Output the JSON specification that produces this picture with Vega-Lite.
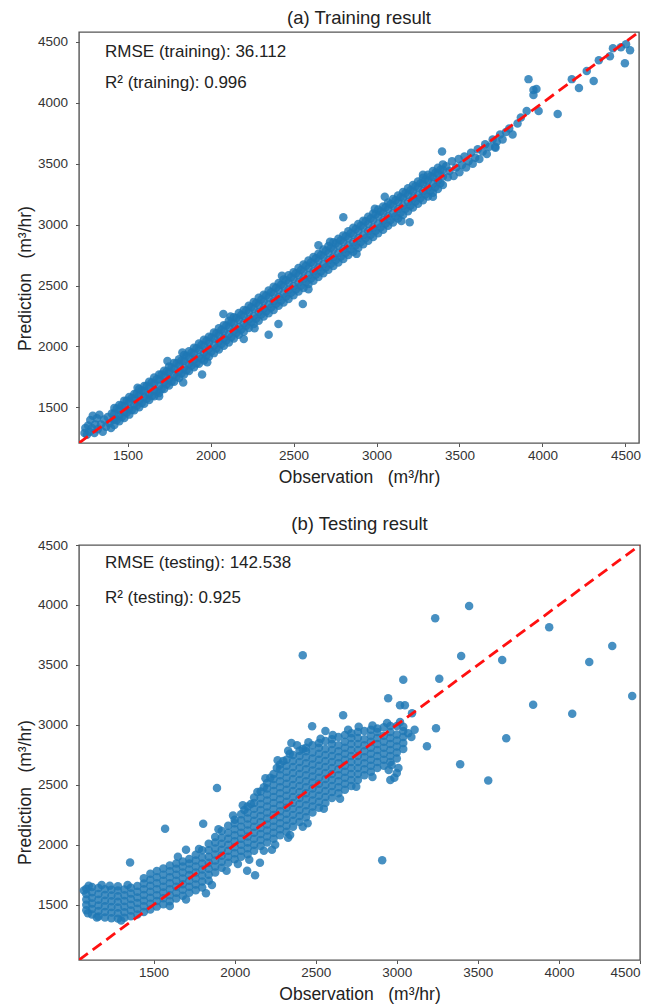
{
 "$schema": "https://vega.github.io/schema/vega-lite/v6.json",
 "padding": {"left": 15, "top": 7, "right": 5, "bottom": 0},
 "spacing": 26,
 "config": {
  "font": "Liberation Sans",
  "view": {"stroke": "#555", "strokeWidth": 1.4},
  "axis": {"grid": false, "domain": false, "tickColor": "#555", "tickSize": 3.5, "labelFontSize": 13.5, "labelColor": "#333", "titleFontSize": 17.5, "titleFontWeight": "normal", "titleColor": "#222", "format": "d"},
  "axisX": {"labelPadding": 2, "titlePadding": 6},
  "axisY": {"labelPadding": 8, "titlePadding": 3},
  "title": {"fontSize": 18.5, "fontWeight": "normal", "color": "#222", "offset": 5}
 },
 "datasets": {
  "train": [
   {"obs":1240,"pred":1290},{"obs":1245,"pred":1330},{"obs":1255,"pred":1275},{"obs":1262,"pred":1350},{"obs":1270,"pred":1300},{"obs":1275,"pred":1395},{"obs":1285,"pred":1330},{"obs":1290,"pred":1430},{"obs":1300,"pred":1290},{"obs":1305,"pred":1360},{"obs":1315,"pred":1410},{"obs":1320,"pred":1320},{"obs":1330,"pred":1440},{"obs":1340,"pred":1360},{"obs":1350,"pred":1300},{"obs":1358,"pred":1400},{"obs":1370,"pred":1340},{"obs":1380,"pred":1420},{"obs":1390,"pred":1370},{"obs":1400,"pred":1330},{"obs":1405,"pred":1450},{"obs":1415,"pred":1400},
   {"obs":1420,"pred":1495},{"obs":1420,"pred":1450},{"obs":1420,"pred":1400},{"obs":1420,"pred":1355},
   {"obs":1450,"pred":1520},{"obs":1450,"pred":1478},{"obs":1450,"pred":1432},{"obs":1450,"pred":1385},
   {"obs":1480,"pred":1555},{"obs":1480,"pred":1510},{"obs":1480,"pred":1462},{"obs":1480,"pred":1412},
   {"obs":1510,"pred":1585},{"obs":1510,"pred":1545},{"obs":1510,"pred":1490},{"obs":1510,"pred":1440},
   {"obs":1540,"pred":1610},{"obs":1540,"pred":1570},{"obs":1540,"pred":1525},{"obs":1540,"pred":1475},
   {"obs":1570,"pred":1650},{"obs":1570,"pred":1600},{"obs":1570,"pred":1552},{"obs":1570,"pred":1500},
   {"obs":1600,"pred":1675},{"obs":1600,"pred":1632},{"obs":1600,"pred":1585},{"obs":1600,"pred":1530},
   {"obs":1630,"pred":1710},{"obs":1630,"pred":1662},{"obs":1630,"pred":1612},{"obs":1630,"pred":1560},
   {"obs":1660,"pred":1745},{"obs":1660,"pred":1695},{"obs":1660,"pred":1640},{"obs":1660,"pred":1590},
   {"obs":1690,"pred":1770},{"obs":1690,"pred":1728},{"obs":1690,"pred":1675},{"obs":1690,"pred":1618},
   {"obs":1720,"pred":1800},{"obs":1720,"pred":1755},{"obs":1720,"pred":1705},{"obs":1720,"pred":1650},
   {"obs":1750,"pred":1835},{"obs":1750,"pred":1790},{"obs":1750,"pred":1735},{"obs":1750,"pred":1680},
   {"obs":1780,"pred":1865},{"obs":1780,"pred":1815},{"obs":1780,"pred":1768},{"obs":1780,"pred":1710},
   {"obs":1810,"pred":1895},{"obs":1810,"pred":1850},{"obs":1810,"pred":1795},{"obs":1810,"pred":1740},
   {"obs":1840,"pred":1930},{"obs":1840,"pred":1880},{"obs":1840,"pred":1825},{"obs":1840,"pred":1770},
   {"obs":1870,"pred":1960},{"obs":1870,"pred":1910},{"obs":1870,"pred":1858},{"obs":1870,"pred":1798},
   {"obs":1900,"pred":1990},{"obs":1900,"pred":1940},{"obs":1900,"pred":1888},{"obs":1900,"pred":1830},
   {"obs":1930,"pred":2025},{"obs":1930,"pred":1972},{"obs":1930,"pred":1915},{"obs":1930,"pred":1858},
   {"obs":1960,"pred":2055},{"obs":1960,"pred":2005},{"obs":1960,"pred":1948},{"obs":1960,"pred":1885},
   {"obs":1990,"pred":2080},{"obs":1990,"pred":2032},{"obs":1990,"pred":1980},{"obs":1990,"pred":1918},
   {"obs":2020,"pred":2115},{"obs":2020,"pred":2065},{"obs":2020,"pred":2008},{"obs":2020,"pred":1945},
   {"obs":2050,"pred":2150},{"obs":2050,"pred":2095},{"obs":2050,"pred":2040},{"obs":2050,"pred":1975},
   {"obs":2080,"pred":2175},{"obs":2080,"pred":2125},{"obs":2080,"pred":2068},{"obs":2080,"pred":2005},
   {"obs":2110,"pred":2210},{"obs":2110,"pred":2158},{"obs":2110,"pred":2100},{"obs":2110,"pred":2032},
   {"obs":2140,"pred":2240},{"obs":2140,"pred":2188},{"obs":2140,"pred":2128},{"obs":2140,"pred":2065},
   {"obs":2170,"pred":2275},{"obs":2170,"pred":2220},{"obs":2170,"pred":2160},{"obs":2170,"pred":2095},
   {"obs":2200,"pred":2300},{"obs":2200,"pred":2250},{"obs":2200,"pred":2190},{"obs":2200,"pred":2120},
   {"obs":2230,"pred":2335},{"obs":2230,"pred":2280},{"obs":2230,"pred":2222},{"obs":2230,"pred":2152},
   {"obs":2260,"pred":2365},{"obs":2260,"pred":2312},{"obs":2260,"pred":2250},{"obs":2260,"pred":2185},
   {"obs":2290,"pred":2400},{"obs":2290,"pred":2342},{"obs":2290,"pred":2282},{"obs":2290,"pred":2210},
   {"obs":2320,"pred":2425},{"obs":2320,"pred":2372},{"obs":2320,"pred":2312},{"obs":2320,"pred":2245},
   {"obs":2350,"pred":2460},{"obs":2350,"pred":2402},{"obs":2350,"pred":2345},{"obs":2350,"pred":2272},
   {"obs":2380,"pred":2490},{"obs":2380,"pred":2435},{"obs":2380,"pred":2372},{"obs":2380,"pred":2300},
   {"obs":2410,"pred":2520},{"obs":2410,"pred":2465},{"obs":2410,"pred":2405},{"obs":2410,"pred":2335},
   {"obs":2440,"pred":2550},{"obs":2440,"pred":2495},{"obs":2440,"pred":2432},{"obs":2440,"pred":2360},
   {"obs":2470,"pred":2585},{"obs":2470,"pred":2525},{"obs":2470,"pred":2465},{"obs":2470,"pred":2390},
   {"obs":2500,"pred":2610},{"obs":2500,"pred":2555},{"obs":2500,"pred":2495},{"obs":2500,"pred":2420},
   {"obs":2530,"pred":2645},{"obs":2530,"pred":2585},{"obs":2530,"pred":2525},{"obs":2530,"pred":2452},
   {"obs":2560,"pred":2672},{"obs":2560,"pred":2618},{"obs":2560,"pred":2555},{"obs":2560,"pred":2480},
   {"obs":2590,"pred":2705},{"obs":2590,"pred":2645},{"obs":2590,"pred":2585},{"obs":2590,"pred":2512},
   {"obs":2620,"pred":2735},{"obs":2620,"pred":2678},{"obs":2620,"pred":2615},{"obs":2620,"pred":2540},
   {"obs":2650,"pred":2762},{"obs":2650,"pred":2705},{"obs":2650,"pred":2648},{"obs":2650,"pred":2570},
   {"obs":2680,"pred":2795},{"obs":2680,"pred":2738},{"obs":2680,"pred":2675},{"obs":2680,"pred":2600},
   {"obs":2710,"pred":2825},{"obs":2710,"pred":2768},{"obs":2710,"pred":2708},{"obs":2710,"pred":2630},
   {"obs":2740,"pred":2855},{"obs":2740,"pred":2798},{"obs":2740,"pred":2735},{"obs":2740,"pred":2660},
   {"obs":2770,"pred":2885},{"obs":2770,"pred":2828},{"obs":2770,"pred":2768},{"obs":2770,"pred":2690},
   {"obs":2800,"pred":2912},{"obs":2800,"pred":2858},{"obs":2800,"pred":2795},{"obs":2800,"pred":2718},
   {"obs":2830,"pred":2945},{"obs":2830,"pred":2888},{"obs":2830,"pred":2828},{"obs":2830,"pred":2750},
   {"obs":2860,"pred":2975},{"obs":2860,"pred":2918},{"obs":2860,"pred":2855},{"obs":2860,"pred":2778},
   {"obs":2890,"pred":3005},{"obs":2890,"pred":2948},{"obs":2890,"pred":2888},{"obs":2890,"pred":2808},
   {"obs":2920,"pred":3032},{"obs":2920,"pred":2978},{"obs":2920,"pred":2915},{"obs":2920,"pred":2840},
   {"obs":2950,"pred":3065},{"obs":2950,"pred":3008},{"obs":2950,"pred":2948},{"obs":2950,"pred":2868},
   {"obs":2980,"pred":3092},{"obs":2980,"pred":3038},{"obs":2980,"pred":2975},{"obs":2980,"pred":2898},
   {"obs":3010,"pred":3125},{"obs":3010,"pred":3068},{"obs":3010,"pred":3008},{"obs":3010,"pred":2930},
   {"obs":3040,"pred":3150},{"obs":3040,"pred":3098},{"obs":3040,"pred":3035},{"obs":3040,"pred":2958},
   {"obs":3070,"pred":3182},{"obs":3070,"pred":3128},{"obs":3070,"pred":3068},{"obs":3070,"pred":2990},
   {"obs":3100,"pred":3210},{"obs":3100,"pred":3158},{"obs":3100,"pred":3095},{"obs":3100,"pred":3018},
   {"obs":3130,"pred":3240},{"obs":3130,"pred":3188},{"obs":3130,"pred":3128},{"obs":3130,"pred":3050},
   {"obs":3160,"pred":3268},{"obs":3160,"pred":3218},{"obs":3160,"pred":3155},{"obs":3160,"pred":3080},
   {"obs":3190,"pred":3298},{"obs":3190,"pred":3245},{"obs":3190,"pred":3188},{"obs":3190,"pred":3110},
   {"obs":3220,"pred":3325},{"obs":3220,"pred":3275},{"obs":3220,"pred":3215},{"obs":3220,"pred":3140},
   {"obs":3250,"pred":3355},{"obs":3250,"pred":3305},{"obs":3250,"pred":3245},{"obs":3250,"pred":3172},
   {"obs":3280,"pred":3385},{"obs":3280,"pred":3335},{"obs":3280,"pred":3275},{"obs":3280,"pred":3200},
   {"obs":3310,"pred":3410},{"obs":3310,"pred":3362},{"obs":3310,"pred":3305},{"obs":3310,"pred":3232},
   {"obs":3340,"pred":3440},{"obs":3340,"pred":3392},{"obs":3340,"pred":3335},{"obs":3340,"pred":3262},
   {"obs":3370,"pred":3468},{"obs":3370,"pred":3420},{"obs":3370,"pred":3362},{"obs":3370,"pred":3292},
   {"obs":3400,"pred":3495},{"obs":3400,"pred":3450},{"obs":3400,"pred":3395},{"obs":3400,"pred":3325},
   {"obs":1435,"pred":1490},{"obs":1435,"pred":1395},{"obs":1465,"pred":1515},{"obs":1465,"pred":1420},{"obs":1495,"pred":1555},{"obs":1495,"pred":1457},{"obs":1525,"pred":1577},{"obs":1525,"pred":1477},
   {"obs":1555,"pred":1613},{"obs":1555,"pred":1513},{"obs":1585,"pred":1640},{"obs":1585,"pred":1535},{"obs":1615,"pred":1677},{"obs":1615,"pred":1570},{"obs":1645,"pred":1703},{"obs":1645,"pred":1593},
   {"obs":1675,"pred":1730},{"obs":1675,"pred":1627},{"obs":1705,"pred":1770},{"obs":1705,"pred":1650},{"obs":1735,"pred":1795},{"obs":1735,"pred":1690},{"obs":1765,"pred":1827},{"obs":1765,"pred":1712},
   {"obs":1795,"pred":1861},{"obs":1795,"pred":1750},{"obs":1825,"pred":1885},{"obs":1825,"pred":1780},{"obs":1855,"pred":1923},{"obs":1855,"pred":1805},{"obs":1885,"pred":1949},{"obs":1885,"pred":1843},
   {"obs":1915,"pred":1985},{"obs":1915,"pred":1862},{"obs":1945,"pred":2011},{"obs":1945,"pred":1900},{"obs":1975,"pred":2047},{"obs":1975,"pred":1925},{"obs":2005,"pred":2073},{"obs":2005,"pred":1958},
   {"obs":2035,"pred":2109},{"obs":2035,"pred":1985},{"obs":2065,"pred":2135},{"obs":2065,"pred":2020},{"obs":2095,"pred":2171},{"obs":2095,"pred":2050},{"obs":2125,"pred":2197},{"obs":2125,"pred":2078},
   {"obs":2155,"pred":2233},{"obs":2155,"pred":2110},{"obs":2185,"pred":2259},{"obs":2185,"pred":2140},{"obs":2215,"pred":2295},{"obs":2215,"pred":2170},{"obs":2245,"pred":2321},{"obs":2245,"pred":2200},
   {"obs":2275,"pred":2357},{"obs":2275,"pred":2230},{"obs":2305,"pred":2383},{"obs":2305,"pred":2262},{"obs":2335,"pred":2419},{"obs":2335,"pred":2288},{"obs":2365,"pred":2445},{"obs":2365,"pred":2320},
   {"obs":2395,"pred":2481},{"obs":2395,"pred":2350},{"obs":2425,"pred":2507},{"obs":2425,"pred":2378},{"obs":2455,"pred":2543},{"obs":2455,"pred":2410},{"obs":2485,"pred":2569},{"obs":2485,"pred":2440},
   {"obs":2515,"pred":2601},{"obs":2515,"pred":2470},{"obs":2545,"pred":2627},{"obs":2545,"pred":2498},{"obs":2575,"pred":2663},{"obs":2575,"pred":2530},{"obs":2605,"pred":2689},{"obs":2605,"pred":2558},
   {"obs":2635,"pred":2725},{"obs":2635,"pred":2590},{"obs":2665,"pred":2751},{"obs":2665,"pred":2618},{"obs":2695,"pred":2785},{"obs":2695,"pred":2650},{"obs":2725,"pred":2809},{"obs":2725,"pred":2678},
   {"obs":2755,"pred":2847},{"obs":2755,"pred":2710},{"obs":2785,"pred":2871},{"obs":2785,"pred":2738},{"obs":2815,"pred":2905},{"obs":2815,"pred":2770},{"obs":2845,"pred":2929},{"obs":2845,"pred":2798},
   {"obs":2875,"pred":2965},{"obs":2875,"pred":2830},{"obs":2905,"pred":2991},{"obs":2905,"pred":2858},{"obs":2935,"pred":3027},{"obs":2935,"pred":2890},{"obs":2965,"pred":3051},{"obs":2965,"pred":2918},
   {"obs":2995,"pred":3085},{"obs":2995,"pred":2950},{"obs":3025,"pred":3109},{"obs":3025,"pred":2978},{"obs":3055,"pred":3143},{"obs":3055,"pred":3010},{"obs":3085,"pred":3167},{"obs":3085,"pred":3038},
   {"obs":3115,"pred":3201},{"obs":3115,"pred":3070},{"obs":3145,"pred":3225},{"obs":3145,"pred":3098},{"obs":3175,"pred":3259},{"obs":3175,"pred":3130},{"obs":3205,"pred":3283},{"obs":3205,"pred":3158},
   {"obs":3235,"pred":3315},{"obs":3235,"pred":3190},{"obs":3265,"pred":3339},{"obs":3265,"pred":3218},{"obs":3295,"pred":3371},{"obs":3295,"pred":3250},{"obs":3325,"pred":3395},{"obs":3325,"pred":3278},
   {"obs":3355,"pred":3427},{"obs":3355,"pred":3310},{"obs":3385,"pred":3451},{"obs":3385,"pred":3340},
   {"obs":1560,"pred":1660},{"obs":1690,"pred":1590},{"obs":1830,"pred":1950},{"obs":1980,"pred":1870},{"obs":2120,"pred":2245},{"obs":2265,"pred":2150},{"obs":2430,"pred":2580},{"obs":2590,"pred":2470},{"obs":2720,"pred":2860},{"obs":2880,"pred":2760},{"obs":2990,"pred":3130},{"obs":3150,"pred":3030},{"obs":3280,"pred":3410},{"obs":3340,"pred":3230},
   {"obs":3420,"pred":3480},{"obs":3430,"pred":3390},{"obs":3440,"pred":3440},{"obs":3455,"pred":3520},{"obs":3465,"pred":3400},{"obs":3480,"pred":3470},{"obs":3495,"pred":3540},{"obs":3500,"pred":3430},{"obs":3515,"pred":3490},{"obs":3530,"pred":3560},{"obs":3540,"pred":3470},{"obs":3555,"pred":3520},{"obs":3570,"pred":3590},{"obs":3580,"pred":3500},{"obs":3595,"pred":3550},{"obs":3610,"pred":3620},{"obs":3620,"pred":3540},{"obs":3640,"pred":3600},{"obs":3655,"pred":3660},{"obs":3665,"pred":3580},{"obs":3680,"pred":3640},{"obs":3700,"pred":3700},{"obs":3715,"pred":3640},{"obs":3725,"pred":3680},{"obs":3745,"pred":3740},{"obs":3760,"pred":3700},{"obs":3780,"pred":3760},{"obs":3800,"pred":3790},{"obs":3820,"pred":3740},{"obs":3850,"pred":3830},{"obs":3870,"pred":3880},
   {"obs":3916,"pred":4195},{"obs":3946,"pred":4105},{"obs":3964,"pred":4114},{"obs":3946,"pred":4064},{"obs":4092,"pred":3909},{"obs":4177,"pred":4195},{"obs":4220,"pred":4122},{"obs":4267,"pred":4261},{"obs":4309,"pred":4179},{"obs":4340,"pred":4350},{"obs":4407,"pred":4383},{"obs":4425,"pred":4449},{"obs":4473,"pred":4457},{"obs":4504,"pred":4481},{"obs":4528,"pred":4432},{"obs":4497,"pred":4326},{"obs":3905,"pred":3934},{"obs":3977,"pred":3934},
   {"obs":1949,"pred":1769},{"obs":1835,"pred":1703},{"obs":2077,"pred":2267},{"obs":2409,"pred":2185},{"obs":2556,"pred":2349},{"obs":2800,"pred":3060},{"obs":3395,"pred":3600},{"obs":3717,"pred":3631},{"obs":2350,"pred":2095},{"obs":3200,"pred":3020},{"obs":2650,"pred":2830},{"obs":1740,"pred":1880},{"obs":3050,"pred":3230},{"obs":2200,"pred":2060}
  ],
  "test": [
   {"obs":1085,"pred":1455},{"obs":1085,"pred":1500},{"obs":1085,"pred":1545},{"obs":1085,"pred":1590},{"obs":1085,"pred":1635},
   {"obs":1120,"pred":1420},{"obs":1120,"pred":1465},{"obs":1120,"pred":1512},{"obs":1120,"pred":1558},{"obs":1120,"pred":1605},{"obs":1120,"pred":1648},
   {"obs":1160,"pred":1402},{"obs":1160,"pred":1448},{"obs":1160,"pred":1495},{"obs":1160,"pred":1542},{"obs":1160,"pred":1590},{"obs":1160,"pred":1640},
   {"obs":1200,"pred":1395},{"obs":1200,"pred":1440},{"obs":1200,"pred":1488},{"obs":1200,"pred":1535},{"obs":1200,"pred":1582},{"obs":1200,"pred":1630},
   {"obs":1240,"pred":1388},{"obs":1240,"pred":1435},{"obs":1240,"pred":1482},{"obs":1240,"pred":1530},{"obs":1240,"pred":1578},{"obs":1240,"pred":1625},
   {"obs":1280,"pred":1385},{"obs":1280,"pred":1430},{"obs":1280,"pred":1478},{"obs":1280,"pred":1525},{"obs":1280,"pred":1572},{"obs":1280,"pred":1620},{"obs":1280,"pred":1655},
   {"obs":1320,"pred":1392},{"obs":1320,"pred":1438},{"obs":1320,"pred":1485},{"obs":1320,"pred":1532},{"obs":1320,"pred":1580},{"obs":1320,"pred":1628},
   {"obs":1360,"pred":1405},{"obs":1360,"pred":1452},{"obs":1360,"pred":1500},{"obs":1360,"pred":1548},{"obs":1360,"pred":1595},{"obs":1360,"pred":1642},
   {"obs":1400,"pred":1420},{"obs":1400,"pred":1468},{"obs":1400,"pred":1515},{"obs":1400,"pred":1562},{"obs":1400,"pred":1610},{"obs":1400,"pred":1658},
   {"obs":1440,"pred":1440},{"obs":1440,"pred":1488},{"obs":1440,"pred":1535},{"obs":1440,"pred":1582},{"obs":1440,"pred":1630},{"obs":1440,"pred":1678},{"obs":1440,"pred":1722},
   {"obs":1070,"pred":1620},{"obs":1100,"pred":1660},{"obs":1180,"pred":1665},{"obs":1230,"pred":1660},{"obs":1340,"pred":1665},{"obs":1095,"pred":1430},{"obs":1300,"pred":1370},{"obs":1150,"pred":1395},
   {"obs":1480,"pred":1462},{"obs":1480,"pred":1510},{"obs":1480,"pred":1560},{"obs":1480,"pred":1610},{"obs":1480,"pred":1660},{"obs":1480,"pred":1710},{"obs":1480,"pred":1760},
   {"obs":1520,"pred":1485},{"obs":1520,"pred":1532},{"obs":1520,"pred":1580},{"obs":1520,"pred":1630},{"obs":1520,"pred":1680},{"obs":1520,"pred":1730},{"obs":1520,"pred":1782},
   {"obs":1560,"pred":1505},{"obs":1560,"pred":1555},{"obs":1560,"pred":1602},{"obs":1560,"pred":1650},{"obs":1560,"pred":1700},{"obs":1560,"pred":1750},{"obs":1560,"pred":1802},
   {"obs":1600,"pred":1530},{"obs":1600,"pred":1580},{"obs":1600,"pred":1630},{"obs":1600,"pred":1680},{"obs":1600,"pred":1730},{"obs":1600,"pred":1780},{"obs":1600,"pred":1828},
   {"obs":1640,"pred":1552},{"obs":1640,"pred":1600},{"obs":1640,"pred":1650},{"obs":1640,"pred":1700},{"obs":1640,"pred":1750},{"obs":1640,"pred":1800},{"obs":1640,"pred":1845},
   {"obs":1680,"pred":1575},{"obs":1680,"pred":1625},{"obs":1680,"pred":1672},{"obs":1680,"pred":1720},{"obs":1680,"pred":1770},{"obs":1680,"pred":1820},{"obs":1680,"pred":1862},
   {"obs":1720,"pred":1600},{"obs":1720,"pred":1650},{"obs":1720,"pred":1700},{"obs":1720,"pred":1748},{"obs":1720,"pred":1795},{"obs":1720,"pred":1845},{"obs":1720,"pred":1882},
   {"obs":1760,"pred":1622},{"obs":1760,"pred":1670},{"obs":1760,"pred":1720},{"obs":1760,"pred":1770},{"obs":1760,"pred":1820},{"obs":1760,"pred":1870},{"obs":1760,"pred":1918},
   {"obs":1800,"pred":1645},{"obs":1800,"pred":1695},{"obs":1800,"pred":1745},{"obs":1800,"pred":1795},{"obs":1800,"pred":1845},{"obs":1800,"pred":1895},{"obs":1800,"pred":1955},
   {"obs":1840,"pred":1700},{"obs":1840,"pred":1750},{"obs":1840,"pred":1800},{"obs":1840,"pred":1850},{"obs":1840,"pred":1900},{"obs":1840,"pred":1955},{"obs":1840,"pred":2010},
   {"obs":1880,"pred":1770},{"obs":1880,"pred":1820},{"obs":1880,"pred":1870},{"obs":1880,"pred":1920},{"obs":1880,"pred":1970},{"obs":1880,"pred":2020},{"obs":1880,"pred":2065},
   {"obs":1920,"pred":1810},{"obs":1920,"pred":1860},{"obs":1920,"pred":1910},{"obs":1920,"pred":1960},{"obs":1920,"pred":2010},{"obs":1920,"pred":2060},{"obs":1920,"pred":2115},
   {"obs":1960,"pred":1850},{"obs":1960,"pred":1900},{"obs":1960,"pred":1950},{"obs":1960,"pred":2000},{"obs":1960,"pred":2050},{"obs":1960,"pred":2100},{"obs":1960,"pred":2160},
   {"obs":2000,"pred":1880},{"obs":2000,"pred":1930},{"obs":2000,"pred":1980},{"obs":2000,"pred":2030},{"obs":2000,"pred":2080},{"obs":2000,"pred":2130},{"obs":2000,"pred":2180},{"obs":2000,"pred":2210},
   {"obs":2040,"pred":1900},{"obs":2040,"pred":1950},{"obs":2040,"pred":2000},{"obs":2040,"pred":2050},{"obs":2040,"pred":2100},{"obs":2040,"pred":2150},{"obs":2040,"pred":2205},{"obs":2040,"pred":2255},
   {"obs":2080,"pred":1922},{"obs":2080,"pred":1972},{"obs":2080,"pred":2020},{"obs":2080,"pred":2070},{"obs":2080,"pred":2120},{"obs":2080,"pred":2170},{"obs":2080,"pred":2220},{"obs":2080,"pred":2270},{"obs":2080,"pred":2320},
   {"obs":2120,"pred":1950},{"obs":2120,"pred":2000},{"obs":2120,"pred":2050},{"obs":2120,"pred":2100},{"obs":2120,"pred":2150},{"obs":2120,"pred":2200},{"obs":2120,"pred":2250},{"obs":2120,"pred":2300},{"obs":2120,"pred":2350},{"obs":2120,"pred":2395},
   {"obs":2160,"pred":1990},{"obs":2160,"pred":2040},{"obs":2160,"pred":2090},{"obs":2160,"pred":2140},{"obs":2160,"pred":2190},{"obs":2160,"pred":2240},{"obs":2160,"pred":2290},{"obs":2160,"pred":2340},{"obs":2160,"pred":2390},{"obs":2160,"pred":2445},
   {"obs":2200,"pred":2020},{"obs":2200,"pred":2070},{"obs":2200,"pred":2120},{"obs":2200,"pred":2170},{"obs":2200,"pred":2220},{"obs":2200,"pred":2270},{"obs":2200,"pred":2320},{"obs":2200,"pred":2370},{"obs":2200,"pred":2420},{"obs":2200,"pred":2470},{"obs":2200,"pred":2515},
   {"obs":2240,"pred":2050},{"obs":2240,"pred":2100},{"obs":2240,"pred":2150},{"obs":2240,"pred":2200},{"obs":2240,"pred":2250},{"obs":2240,"pred":2300},{"obs":2240,"pred":2350},{"obs":2240,"pred":2400},{"obs":2240,"pred":2450},{"obs":2240,"pred":2500},{"obs":2240,"pred":2550},{"obs":2240,"pred":2590},
   {"obs":2280,"pred":2080},{"obs":2280,"pred":2130},{"obs":2280,"pred":2180},{"obs":2280,"pred":2230},{"obs":2280,"pred":2280},{"obs":2280,"pred":2330},{"obs":2280,"pred":2380},{"obs":2280,"pred":2430},{"obs":2280,"pred":2480},{"obs":2280,"pred":2530},{"obs":2280,"pred":2580},{"obs":2280,"pred":2630},{"obs":2280,"pred":2670},
   {"obs":2320,"pred":2110},{"obs":2320,"pred":2160},{"obs":2320,"pred":2210},{"obs":2320,"pred":2260},{"obs":2320,"pred":2310},{"obs":2320,"pred":2360},{"obs":2320,"pred":2410},{"obs":2320,"pred":2460},{"obs":2320,"pred":2510},{"obs":2320,"pred":2560},{"obs":2320,"pred":2610},{"obs":2320,"pred":2660},{"obs":2320,"pred":2710},
   {"obs":2360,"pred":2150},{"obs":2360,"pred":2200},{"obs":2360,"pred":2250},{"obs":2360,"pred":2300},{"obs":2360,"pred":2350},{"obs":2360,"pred":2400},{"obs":2360,"pred":2450},{"obs":2360,"pred":2500},{"obs":2360,"pred":2550},{"obs":2360,"pred":2600},{"obs":2360,"pred":2650},{"obs":2360,"pred":2700},{"obs":2360,"pred":2750},
   {"obs":2400,"pred":2190},{"obs":2400,"pred":2240},{"obs":2400,"pred":2290},{"obs":2400,"pred":2340},{"obs":2400,"pred":2390},{"obs":2400,"pred":2440},{"obs":2400,"pred":2490},{"obs":2400,"pred":2540},{"obs":2400,"pred":2590},{"obs":2400,"pred":2640},{"obs":2400,"pred":2690},{"obs":2400,"pred":2740},{"obs":2400,"pred":2785},
   {"obs":2440,"pred":2230},{"obs":2440,"pred":2280},{"obs":2440,"pred":2330},{"obs":2440,"pred":2380},{"obs":2440,"pred":2430},{"obs":2440,"pred":2480},{"obs":2440,"pred":2530},{"obs":2440,"pred":2580},{"obs":2440,"pred":2630},{"obs":2440,"pred":2680},{"obs":2440,"pred":2730},{"obs":2440,"pred":2780},{"obs":2440,"pred":2810},
   {"obs":2480,"pred":2270},{"obs":2480,"pred":2320},{"obs":2480,"pred":2370},{"obs":2480,"pred":2420},{"obs":2480,"pred":2470},{"obs":2480,"pred":2520},{"obs":2480,"pred":2570},{"obs":2480,"pred":2620},{"obs":2480,"pred":2670},{"obs":2480,"pred":2720},{"obs":2480,"pred":2770},{"obs":2480,"pred":2830},
   {"obs":2520,"pred":2310},{"obs":2520,"pred":2360},{"obs":2520,"pred":2410},{"obs":2520,"pred":2460},{"obs":2520,"pred":2510},{"obs":2520,"pred":2560},{"obs":2520,"pred":2610},{"obs":2520,"pred":2660},{"obs":2520,"pred":2710},{"obs":2520,"pred":2760},{"obs":2520,"pred":2810},{"obs":2520,"pred":2850},
   {"obs":2560,"pred":2350},{"obs":2560,"pred":2400},{"obs":2560,"pred":2450},{"obs":2560,"pred":2500},{"obs":2560,"pred":2550},{"obs":2560,"pred":2600},{"obs":2560,"pred":2650},{"obs":2560,"pred":2700},{"obs":2560,"pred":2750},{"obs":2560,"pred":2800},{"obs":2560,"pred":2865},
   {"obs":2600,"pred":2390},{"obs":2600,"pred":2440},{"obs":2600,"pred":2490},{"obs":2600,"pred":2540},{"obs":2600,"pred":2590},{"obs":2600,"pred":2640},{"obs":2600,"pred":2690},{"obs":2600,"pred":2740},{"obs":2600,"pred":2790},{"obs":2600,"pred":2840},{"obs":2600,"pred":2880},
   {"obs":2640,"pred":2430},{"obs":2640,"pred":2480},{"obs":2640,"pred":2530},{"obs":2640,"pred":2580},{"obs":2640,"pred":2630},{"obs":2640,"pred":2680},{"obs":2640,"pred":2730},{"obs":2640,"pred":2780},{"obs":2640,"pred":2830},{"obs":2640,"pred":2900},
   {"obs":2680,"pred":2460},{"obs":2680,"pred":2510},{"obs":2680,"pred":2560},{"obs":2680,"pred":2610},{"obs":2680,"pred":2660},{"obs":2680,"pred":2710},{"obs":2680,"pred":2760},{"obs":2680,"pred":2810},{"obs":2680,"pred":2860},{"obs":2680,"pred":2915},
   {"obs":2720,"pred":2490},{"obs":2720,"pred":2540},{"obs":2720,"pred":2590},{"obs":2720,"pred":2640},{"obs":2720,"pred":2690},{"obs":2720,"pred":2740},{"obs":2720,"pred":2790},{"obs":2720,"pred":2840},{"obs":2720,"pred":2890},{"obs":2720,"pred":2930},
   {"obs":2760,"pred":2540},{"obs":2760,"pred":2590},{"obs":2760,"pred":2640},{"obs":2760,"pred":2690},{"obs":2760,"pred":2740},{"obs":2760,"pred":2790},{"obs":2760,"pred":2840},{"obs":2760,"pred":2890},{"obs":2760,"pred":2940},
   {"obs":2800,"pred":2580},{"obs":2800,"pred":2630},{"obs":2800,"pred":2680},{"obs":2800,"pred":2730},{"obs":2800,"pred":2780},{"obs":2800,"pred":2830},{"obs":2800,"pred":2880},{"obs":2800,"pred":2950},
   {"obs":2840,"pred":2610},{"obs":2840,"pred":2660},{"obs":2840,"pred":2710},{"obs":2840,"pred":2760},{"obs":2840,"pred":2810},{"obs":2840,"pred":2860},{"obs":2840,"pred":2910},{"obs":2840,"pred":2960},
   {"obs":2880,"pred":2640},{"obs":2880,"pred":2690},{"obs":2880,"pred":2740},{"obs":2880,"pred":2790},{"obs":2880,"pred":2840},{"obs":2880,"pred":2890},{"obs":2880,"pred":2940},{"obs":2880,"pred":2970},
   {"obs":2920,"pred":2660},{"obs":2920,"pred":2710},{"obs":2920,"pred":2760},{"obs":2920,"pred":2810},{"obs":2920,"pred":2860},{"obs":2920,"pred":2910},{"obs":2920,"pred":2980},
   {"obs":2960,"pred":2690},{"obs":2960,"pred":2740},{"obs":2960,"pred":2790},{"obs":2960,"pred":2840},{"obs":2960,"pred":2890},{"obs":2960,"pred":2940},{"obs":2960,"pred":2990},
   {"obs":3000,"pred":2720},{"obs":3000,"pred":2770},{"obs":3000,"pred":2820},{"obs":3000,"pred":2870},{"obs":3000,"pred":2920},{"obs":3000,"pred":2990},
   {"obs":3040,"pred":2800},{"obs":3040,"pred":2850},{"obs":3040,"pred":2900},{"obs":3040,"pred":2950},{"obs":3040,"pred":2985},
   {"obs":2180,"pred":2480},{"obs":2220,"pred":2560},{"obs":2260,"pred":2640},{"obs":2300,"pred":2700},{"obs":2100,"pred":2340},{"obs":2060,"pred":2290},{"obs":2340,"pred":2760},{"obs":2420,"pred":2800},
   {"obs":1650,"pred":1900},{"obs":1780,"pred":1965},{"obs":1900,"pred":2130},{"obs":1990,"pred":2245},{"obs":2050,"pred":2330},{"obs":2140,"pred":2440},{"obs":2190,"pred":2555},{"obs":2265,"pred":2705},{"obs":2330,"pred":2785},{"obs":2385,"pred":2830},{"obs":2455,"pred":2855},{"obs":2530,"pred":2885},{"obs":2605,"pred":2915},{"obs":2700,"pred":2960},{"obs":2765,"pred":2985},{"obs":2850,"pred":2995},{"obs":2940,"pred":3015},{"obs":3020,"pred":3025},{"obs":2560,"pred":2950},{"obs":2350,"pred":2850},
   {"obs":1600,"pred":1490},{"obs":1700,"pred":1545},{"obs":1860,"pred":1665},{"obs":1950,"pred":1785},{"obs":2020,"pred":1840},{"obs":2090,"pred":1875},{"obs":2180,"pred":1950},{"obs":2250,"pred":2000},{"obs":2330,"pred":2060},{"obs":2450,"pred":2180},{"obs":2550,"pred":2300},{"obs":2650,"pred":2385},{"obs":2750,"pred":2485},{"obs":2850,"pred":2565},{"obs":2950,"pred":2625},{"obs":2230,"pred":1960},{"obs":2420,"pred":2150},
   {"obs":1355,"pred":1852},{"obs":1571,"pred":2135},{"obs":1806,"pred":2176},{"obs":1891,"pred":2475},{"obs":1700,"pred":1960},{"obs":1823,"pred":1597},{"obs":2126,"pred":1747},{"obs":2077,"pred":1785},{"obs":2156,"pred":1851},{"obs":2342,"pred":2083},{"obs":2420,"pred":3580},{"obs":2478,"pred":2989},{"obs":2669,"pred":3081},{"obs":2910,"pred":1871},{"obs":3186,"pred":2822},{"obs":3242,"pred":2972},{"obs":3391,"pred":2673},{"obs":2947,"pred":3222},{"obs":3020,"pred":3164},{"obs":3050,"pred":3164},{"obs":3094,"pred":3097},{"obs":3446,"pred":3991},{"obs":3237,"pred":3890},{"obs":3940,"pred":3815},{"obs":4329,"pred":3658},{"obs":3397,"pred":3575},{"obs":3650,"pred":3542},{"obs":4187,"pred":3525},{"obs":3040,"pred":3376},{"obs":3262,"pred":3384},{"obs":4452,"pred":3242},{"obs":3841,"pred":3168},{"obs":4082,"pred":3094},{"obs":3675,"pred":2889},{"obs":3564,"pred":2536},{"obs":2968,"pred":2665},{"obs":3000,"pred":2600},{"obs":2985,"pred":2560},{"obs":2960,"pred":2540},{"obs":3010,"pred":2640},{"obs":3070,"pred":2930},{"obs":3110,"pred":2960},{"obs":3090,"pred":2900}
  ]
 },
 "vconcat": [
  {
   "title": "(a) Training result",
   "width": 560,
   "height": 411,
   "encoding": {
    "x": {"field": "obs", "type": "quantitative", "scale": {"domain": [1207, 4582], "nice": false, "zero": false}, "axis": {"values": [1500, 2000, 2500, 3000, 3500, 4000, 4500], "title": "Observation\u00a0\u00a0\u00a0(m³/hr)"}},
    "y": {"field": "pred", "type": "quantitative", "scale": {"domain": [1207, 4582], "nice": false, "zero": false}, "axis": {"values": [1500, 2000, 2500, 3000, 3500, 4000, 4500], "title": "Prediction\u00a0\u00a0\u00a0(m³/hr)", "titleY": 246}}
   },
   "layer": [
    {"data": {"name": "train"}, "mark": {"type": "circle", "size": 72, "color": "#1f77b4", "opacity": 0.82}},
    {"data": {"values": [{"obs": 1207, "pred": 1207}, {"obs": 4582, "pred": 4582}]}, "mark": {"type": "line", "color": "#ff1010", "strokeWidth": 2.8, "strokeDash": [11, 6], "clip": true}},
    {"data": {"values": [{"obs": 1364, "pred": 4418, "t": "RMSE (training): 36.112"}, {"obs": 1364, "pred": 4163, "t": "R² (training): 0.996"}]}, "mark": {"type": "text", "align": "left", "baseline": "middle", "fontSize": 17, "color": "#222"}, "encoding": {"text": {"field": "t"}}}
   ]
  },
  {
   "title": "(b) Testing result",
   "width": 561,
   "height": 415,
   "encoding": {
    "x": {"field": "obs", "type": "quantitative", "scale": {"domain": [1040, 4500], "nice": false, "zero": false}, "axis": {"values": [1500, 2000, 2500, 3000, 3500, 4000, 4500], "title": "Observation\u00a0\u00a0\u00a0(m³/hr)"}},
    "y": {"field": "pred", "type": "quantitative", "scale": {"domain": [1040, 4500], "nice": false, "zero": false}, "axis": {"values": [1500, 2000, 2500, 3000, 3500, 4000, 4500], "title": "Prediction\u00a0\u00a0\u00a0(m³/hr)", "titleY": 247}}
   },
   "layer": [
    {"data": {"name": "test"}, "mark": {"type": "circle", "size": 72, "color": "#1f77b4", "opacity": 0.82}},
    {"data": {"values": [{"obs": 1040, "pred": 1040}, {"obs": 4500, "pred": 4500}]}, "mark": {"type": "line", "color": "#ff1010", "strokeWidth": 2.8, "strokeDash": [11, 6], "clip": true}},
    {"data": {"values": [{"obs": 1200, "pred": 4350, "t": "RMSE (testing): 142.538"}, {"obs": 1200, "pred": 4058, "t": "R² (testing): 0.925"}]}, "mark": {"type": "text", "align": "left", "baseline": "middle", "fontSize": 17, "color": "#222"}, "encoding": {"text": {"field": "t"}}}
   ]
  }
 ]
}
